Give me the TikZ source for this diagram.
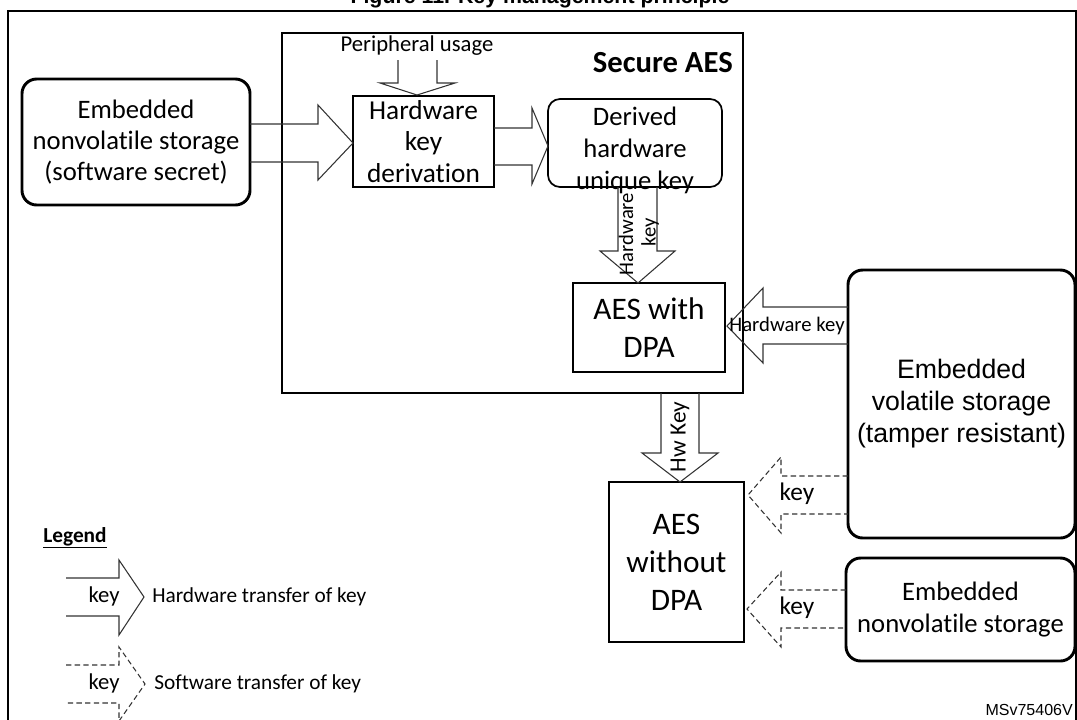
\documentclass[tikz,border=0pt]{standalone}
\usepackage{fontspec}
\setmainfont[Ligatures=NoCommon]{Carlito}
\newfontfamily\arialf{Liberation Sans}
\begin{document}
\begin{tikzpicture}[x=0.75pt,y=-0.75pt,
  box/.style={draw,line width=2.2pt,align=center,inner sep=0pt},
  rbox/.style={draw,line width=2.2pt,rounded corners=11pt,align=center,inner sep=0pt},
  blk/.style={draw=black!80,line width=0.8pt,line join=miter},
  dblk/.style={draw=black!80,line width=0.8pt,dashed,dash pattern=on 4pt off 2.5pt},
  lbl/.style={inner sep=0pt,font=\fontsize{15.5}{17}\selectfont}]
\useasboundingbox (0,0) rectangle (1077,719);
\node[anchor=base,font=\arialf\bfseries\fontsize{16}{18}\selectfont] (title) at (540,3) {Figure 11. Key management principle};
\draw[line width=1.6pt] (8,740) -- (8,11) -- (1076,11) -- (1076,740);
\node[draw,line width=2.2pt,minimum width=461*0.75pt,minimum height=360*0.75pt,inner sep=0pt] (sec) at (512.5,213) {};
\node[anchor=base east,font=\bfseries\fontsize{23}{26}\selectfont,inner sep=0pt] (sectitle) at (733,72) {Secure AES};
\node[rbox,minimum width=228*0.75pt,minimum height=126*0.75pt,font=\fontsize{20}{23.25}\selectfont] (st) at (136,142) {Embedded\\nonvolatile storage\\(software secret)};
\node[box,minimum width=141*0.75pt,minimum height=91*0.75pt,font=\fontsize{20.5}{23.5}\selectfont] (hkd) at (423.5,141.5) {Hardware\\key\\derivation};
\node[draw,line width=1.3pt,rounded corners=9pt,minimum width=174*0.75pt,minimum height=88*0.75pt,inner sep=0pt] (der) at (635,143) {};
\node[align=center,inner sep=0pt,font=\fontsize{20}{24}\selectfont] (dertxt) at (635,150) {Derived\\hardware\\unique key};
\node[box,minimum width=152*0.75pt,minimum height=89*0.75pt,font=\fontsize{23.5}{28}\selectfont] (dpa) at (649,327.5) {AES with\\DPA};
\node[rbox,minimum width=227*0.75pt,minimum height=268*0.75pt,font=\arialf\fontsize{20}{24}\selectfont] (vol) at (961.5,404) {Embedded\\volatile storage\\(tamper resistant)};
\node[box,minimum width=135*0.75pt,minimum height=160*0.75pt,font=\fontsize{23.5}{28.5}\selectfont] (wo) at (676.5,562) {AES\\without\\DPA};
\node[rbox,minimum width=229*0.75pt,minimum height=103*0.75pt,font=\fontsize{20}{23.5}\selectfont] (nv) at (960.5,609.5) {Embedded\\nonvolatile storage};
% peripheral usage
\node[inner sep=0pt,font=\fontsize{17}{19}\selectfont] (per) at (417,46) {Peripheral usage};
\draw[blk] (398,60) -- (398,83) -- (380,83) -- (417,95) -- (455,83) -- (437,83) -- (437,60);
% arrows
\draw[blk] (250,124) -- (318,124) -- (318,105) -- (353,143) -- (318,180) -- (318,162) -- (250,162);
\draw[blk] (494,128) -- (532,128) -- (532,108) -- (548,146) -- (532,184) -- (532,165) -- (494,165);
\draw[blk] (618,187) -- (618,251) -- (600,251) -- (638,283) -- (675,251) -- (657,251) -- (657,187);
\node[lbl,rotate=90] (hk1) at (626,234) {Hardware};
\node[lbl,rotate=90] (hk2) at (650,232) {key};
\draw[blk] (848,307) -- (763,307) -- (763,288) -- (727,326) -- (763,363) -- (763,344) -- (848,344);
\node[lbl] (hk3) at (787,326) {Hardware key};
\draw[blk] (661,393) -- (661,453) -- (642,453) -- (680,482) -- (718,453) -- (699,453) -- (699,393);
\node[inner sep=0pt,rotate=90,font=\fontsize{17.5}{19}\selectfont] (hw) at (680,437) {Hw Key};
\draw[dblk] (848,476) -- (781,476) -- (781,457) -- (748,495) -- (781,533) -- (781,514) -- (848,514);
\node[inner sep=0pt,font=\fontsize{19}{21}\selectfont] (k1) at (797,494) {key};
\draw[dblk] (846,590) -- (781,590) -- (781,572) -- (747,609) -- (781,647) -- (781,628) -- (846,628);
\node[inner sep=0pt,font=\fontsize{19}{21}\selectfont] (k2) at (797,608) {key};
% legend
\node[anchor=base,inner sep=0pt,font=\bfseries\fontsize{16}{18}\selectfont] (leg) at (75,542) {\underline{Legend}};
\draw[blk] (66,578) -- (119,578) -- (119,560) -- (144,597) -- (119,635) -- (119,616) -- (66,616);
\node[inner sep=0pt,font=\fontsize{17}{19}\selectfont] (lk1) at (104,596) {key};
\node[anchor=west,inner sep=0pt,font=\fontsize{16}{18}\selectfont] (lt1) at (152,597) {Hardware transfer of key};
\draw[dblk] (66,665) -- (119,665) -- (119,647) -- (145,684) -- (119,721) -- (119,703) -- (66,703);
\node[inner sep=0pt,font=\fontsize{17}{19}\selectfont] (lk2) at (104,683) {key};
\node[anchor=west,inner sep=0pt,font=\fontsize{16}{18}\selectfont] (lt2) at (154,684) {Software transfer of key};
\node[anchor=base east,inner sep=0pt,font=\arialf\fontsize{12}{14}\selectfont] (ms) at (1073,715) {MSv75406V};
\end{tikzpicture}
\end{document}
